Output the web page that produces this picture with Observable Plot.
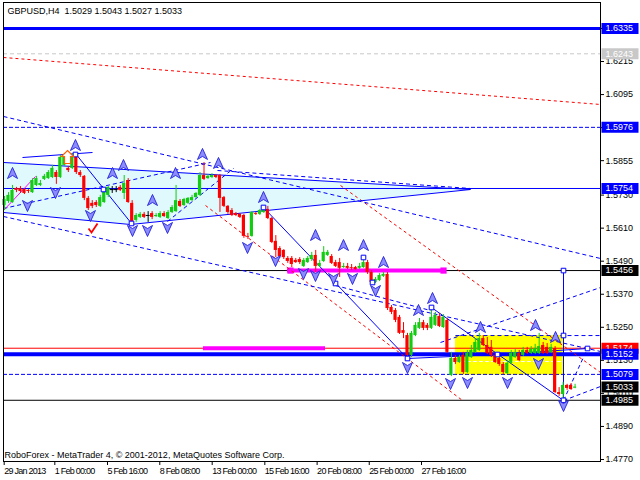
<!DOCTYPE html>
<html><head><meta charset="utf-8">
<script src="https://cdn.jsdelivr.net/npm/d3@7"></script>
<script src="https://cdn.jsdelivr.net/npm/@observablehq/plot@0.6"></script>
<style>
html,body{margin:0;padding:0;background:#fff;}
#chart svg{display:block;}
#chart g[aria-label="x-axis tick label"] text{letter-spacing:-0.75px;}
</style></head><body><div id="chart"></div>
<script>
// ---------------- data ----------------
const symbolName = "GBPUSD";
const period = "H4";
const opens = [1.5692,1.5707,1.5703,1.5754,1.5754,1.5750,1.5747,1.5739,1.5765,1.5765,1.5787,1.5790,1.5794,1.5812,1.5794,1.5838,1.5827,1.5827,1.5867,1.5812,
1.5798,1.5718,1.5700,1.5703,1.5689,1.5703,1.5729,1.5750,1.5750,1.5758,1.5736,1.5783,1.5700,1.5638,1.5649,1.5660,1.5656,1.5663,1.5652,1.5649,
1.5663,1.5645,1.5667,1.5670,1.5707,1.5692,1.5700,1.5710,1.5721,1.5729,1.5801,1.5790,1.5794,1.5801,1.5801,1.5721,1.5689,1.5674,1.5663,1.5660,
1.5656,1.5580,1.5580,1.5663,1.5660,1.5667,1.5678,1.5645,1.5562,1.5536,1.5529,1.5500,1.5500,1.5493,1.5496,1.5471,1.5485,1.5496,1.5511,1.5471,
1.5489,1.5511,1.5507,1.5485,1.5485,1.5467,1.5471,1.5467,1.5467,1.5464,1.5467,1.5485,1.5449,1.5413,1.5420,1.5435,1.5442,1.5322,1.5311,1.5286,
1.5238,1.5220,1.5148,1.5220,1.5246,1.5267,1.5257,1.5246,1.5257,1.5289,1.5249,1.5275,1.5075,1.5137,1.5122,1.5148,1.5086,1.5140,1.5159,1.5166,
1.5209,1.5184,1.5177,1.5148,1.5137,1.5115,1.5082,1.5119,1.5140,1.5155,1.5148,1.5166,1.5155,1.5155,1.5155,1.5184,1.5177,1.5159,1.5173,1.5013,
1.5006,1.5039,1.5039,1.5029];
const highs = [1.5725,1.5739,1.5765,1.5758,1.5761,1.5754,1.5750,1.5790,1.5798,1.5783,1.5805,1.5819,1.5838,1.5819,1.5874,1.5881,1.5834,1.5881,1.5881,1.5819,
1.5801,1.5725,1.5710,1.5710,1.5729,1.5754,1.5761,1.5761,1.5761,1.5765,1.5801,1.5790,1.5710,1.5663,1.5667,1.5667,1.5670,1.5670,1.5663,1.5670,
1.5670,1.5674,1.5692,1.5765,1.5714,1.5718,1.5721,1.5729,1.5739,1.5812,1.5848,1.5805,1.5808,1.5805,1.5805,1.5725,1.5692,1.5681,1.5667,1.5663,
1.5660,1.5591,1.5670,1.5667,1.5678,1.5689,1.5689,1.5649,1.5583,1.5543,1.5532,1.5507,1.5507,1.5500,1.5503,1.5500,1.5507,1.5522,1.5529,1.5493,
1.5543,1.5529,1.5514,1.5493,1.5500,1.5482,1.5482,1.5478,1.5471,1.5482,1.5503,1.5493,1.5456,1.5431,1.5445,1.5449,1.5449,1.5329,1.5318,1.5293,
1.5267,1.5228,1.5235,1.5267,1.5282,1.5275,1.5264,1.5318,1.5304,1.5300,1.5296,1.5282,1.5159,1.5148,1.5148,1.5159,1.5166,1.5184,1.5209,1.5228,
1.5220,1.5213,1.5202,1.5155,1.5144,1.5122,1.5129,1.5166,1.5169,1.5166,1.5177,1.5177,1.5180,1.5188,1.5228,1.5195,1.5191,1.5188,1.5180,1.5031,
1.5050,1.5043,1.5046,1.5043];
const lows = [1.5674,1.5700,1.5700,1.5739,1.5736,1.5732,1.5736,1.5736,1.5761,1.5761,1.5783,1.5787,1.5790,1.5769,1.5790,1.5834,1.5812,1.5823,1.5805,1.5794,
1.5710,1.5674,1.5681,1.5685,1.5685,1.5700,1.5721,1.5736,1.5739,1.5743,1.5714,1.5700,1.5623,1.5631,1.5645,1.5645,1.5631,1.5641,1.5649,1.5645,
1.5649,1.5641,1.5663,1.5667,1.5685,1.5689,1.5696,1.5707,1.5718,1.5725,1.5783,1.5787,1.5790,1.5790,1.5667,1.5685,1.5660,1.5652,1.5652,1.5645,
1.5573,1.5569,1.5577,1.5656,1.5656,1.5663,1.5641,1.5554,1.5503,1.5500,1.5496,1.5482,1.5467,1.5482,1.5478,1.5467,1.5482,1.5489,1.5449,1.5467,
1.5485,1.5507,1.5478,1.5467,1.5431,1.5464,1.5460,1.5456,1.5456,1.5460,1.5464,1.5442,1.5405,1.5409,1.5416,1.5431,1.5311,1.5296,1.5267,1.5224,
1.5209,1.5129,1.5140,1.5216,1.5242,1.5238,1.5238,1.5242,1.5253,1.5249,1.5246,1.5155,1.5071,1.5115,1.5119,1.5079,1.5082,1.5137,1.5155,1.5162,
1.5180,1.5151,1.5140,1.5119,1.5108,1.5079,1.5079,1.5115,1.5137,1.5126,1.5144,1.5151,1.5151,1.5151,1.5151,1.5151,1.5151,1.5155,1.5010,1.4999,
1.4985,1.5021,1.5021,1.5027];
const closes = [1.5714,1.5729,1.5747,1.5747,1.5743,1.5736,1.5743,1.5783,1.5790,1.5772,1.5798,1.5812,1.5827,1.5794,1.5867,1.5874,1.5819,1.5874,1.5812,1.5801,
1.5718,1.5681,1.5689,1.5692,1.5721,1.5747,1.5758,1.5750,1.5750,1.5747,1.5772,1.5703,1.5631,1.5656,1.5660,1.5649,1.5656,1.5649,1.5656,1.5663,
1.5652,1.5667,1.5685,1.5710,1.5689,1.5714,1.5718,1.5721,1.5736,1.5801,1.5787,1.5798,1.5801,1.5794,1.5718,1.5689,1.5667,1.5656,1.5656,1.5649,
1.5580,1.5577,1.5667,1.5660,1.5674,1.5681,1.5645,1.5558,1.5529,1.5507,1.5503,1.5489,1.5478,1.5485,1.5485,1.5493,1.5500,1.5511,1.5471,1.5482,
1.5522,1.5522,1.5482,1.5471,1.5464,1.5471,1.5464,1.5464,1.5460,1.5471,1.5485,1.5449,1.5413,1.5424,1.5438,1.5442,1.5318,1.5304,1.5275,1.5228,
1.5228,1.5148,1.5228,1.5257,1.5267,1.5246,1.5246,1.5286,1.5293,1.5253,1.5286,1.5159,1.5137,1.5122,1.5140,1.5086,1.5155,1.5166,1.5195,1.5209,
1.5184,1.5155,1.5148,1.5122,1.5115,1.5086,1.5119,1.5155,1.5159,1.5129,1.5166,1.5155,1.5169,1.5173,1.5180,1.5155,1.5155,1.5177,1.5013,1.5006,
1.5039,1.5028,1.5024,1.5033];

// y-axis tick labels and x-axis (bar index) tick labels
const yTicks = [1.6335,1.6215,1.6095,1.5975,1.5855,1.5730,1.5610,1.5490,1.5370,1.5250,1.5130,1.5010,1.4890,1.4770];
const xTickBars = [-0.33,12.36,25.56,38.67,51.8,64.99,78.1,91.16,104.26];
const xTickLabels = ["29 Jan 2013","1 Feb 00:00","5 Feb 16:00","8 Feb 08:00","13 Feb 00:00","15 Feb 16:00","20 Feb 08:00","25 Feb 00:00","27 Feb 16:00"];
const xDomain = [-0.25, 149.37];
const yDomain = [1.47627, 1.64293];

// horizontal levels
const thickBlueLevels = [1.6335];
const heavyBlueLevels = [1.5152];
const solidBlueLevels = [1.5754];
const dashedBlueLevels = [1.5976, 1.5079];
const grayLevels = [1.6243];
const blackLevels = [1.5456, 1.4985];
const redLevels = [1.5174];
// price tags on the right scale
const blueTags = [1.6335, 1.5976, 1.5754, 1.5152, 1.5079];
const grayTags = [1.6243];
const blackTags = [1.5456, 1.5033, 1.4985];
const redTags = [1.5174];

// triangle (bar, low, high)
const triangleBars = [-0.25, 31.58, 116.79];
const triangleLow = [1.56668, 1.56232, 1.57503];
const triangleHigh = [1.58484, 1.5822, 1.57503];
// rectangle [bar1, bar2, price1, price2]
const yellowBox = [113.03, 140.1, 1.5075, 1.5220];
const whiteDash = [113.03, 140.1, 1.51258];

// trend lines [bar1, price1, bar2, price2]
const solidLines = [
  [-0.25,1.58484,116.79,1.57503],[-0.25,1.56668,31.58,1.56232],[31.58,1.56232,116.79,1.57503],
  [4.51,1.58665,22.06,1.58847],[17.79,1.58810,31.83,1.56269],[64.91,1.56850,101.0,1.51367],
  [101.0,1.51367,123.56,1.51512],[123.56,1.51512,146.12,1.51730],[107.0,1.53219,140.1,1.49842],
  [140.1,1.5456,140.1,1.4985]
];
const dashedLines = [
  [-0.25,1.60154,149.37,1.54998],[-0.25,1.56523,149.37,1.51621],[-0.25,1.56814,51.63,1.58484],
  [40.85,1.56342,57.39,1.58266],[53.38,1.58193,116.79,1.57540],[82.96,1.54017,106.77,1.53110],
  [109.27,1.51948,149.37,1.53945],[140.1,1.49842,149.37,1.50350],[140.1,1.49842,146.12,1.51730],
  [113.03,1.5220,149.37,1.5220]
];
const redDashedLines = [
  [-0.25,1.62296,149.37,1.60590],[50.38,1.56922,114.79,1.49842],[84.21,1.57649,149.37,1.50859]
];
const magentaThick = [[70.93,1.5456,110.03],[49.87,1.5174,80.45]];
const magentaEnds = [[71.68,1.5456],[110.03,1.5456]];
const magentaThin = [[-0.25,1.56741,7.77,1.57976]];
const squares = [[17.79,1.58774],[24.81,1.57503],[31.83,1.56269],[64.91,1.56850],[82.96,1.54090],[89.97,1.55034],
  [92.23,1.54127],[101.0,1.51367],[107.02,1.53219],[123.56,1.51512],[146.12,1.51730],[140.1,1.52202],[140.1,1.5456],[140.1,1.4985]];
const upFractals = [[2.01,1.58085],[17.79,1.59101],[27.07,1.58085],[29.82,1.58375],[37.09,1.57104],[42.86,1.58085],
  [49.62,1.58776],[53.63,1.58449],[64.91,1.57213],[77.94,1.55833],[84.96,1.55470],[89.97,1.55470],[94.99,1.54853],
  [103.76,1.53110],[107.27,1.53546],[119.30,1.52493],[133.08,1.52565],[138.10,1.52130]];
const downFractals = [[5.76,1.56922],[12.78,1.57394],[21.55,1.56559],[32.08,1.56015],[35.84,1.56015],[40.85,1.56124],
  [60.90,1.55398],[67.92,1.54925],[74.94,1.54454],[77.94,1.54381],[82.46,1.54272],[87.22,1.54272],[92.98,1.53836],
  [101.0,1.51040],[111.78,1.50459],[116.04,1.50495],[126.07,1.50495],[133.83,1.51185],[140.1,1.49660]];
const buyArrow = [[15.79,1.58665]];
const checkMark = [[22.06,1.56088]];
const footerText = "RoboForex - MetaTrader 4, \u00a9 2001-2012, MetaQuotes Software Corp.";

// ---------------- chart ----------------
const BULL = "#12cc12", BEAR = "#ff0000", BLUE = "#0000ff";
const candles = opens.map((o, i) => ({i, o, h: highs[i], l: lows[i], c: closes[i]}));
const colorOf = d => d.c > d.o ? BULL : d.c < d.o ? BEAR : "#000000";
const last = candles[candles.length - 1];
const header = `${symbolName},${period}\u00a0\u00a0${[last.o, last.h, last.l, last.c].map(v => v.toFixed(4)).join(" ")}`;
const xLabelMap = new Map(xTickBars.map((b, k) => [b, xTickLabels[k]]));
const tri = triangleBars.map((b, k) => ({b, lo: triangleLow[k], hi: triangleHigh[k]}));

const upSym = {draw(c) { c.moveTo(0,-6); c.lineTo(5,5); c.lineTo(0,2); c.lineTo(-5,5); c.closePath(); }};
const downSym = {draw(c) { c.moveTo(0,6); c.lineTo(5,-5); c.lineTo(0,-2); c.lineTo(-5,-5); c.closePath(); }};
const buySym = {draw(c) { c.moveTo(0,-7); c.lineTo(6,-1); c.lineTo(3,-1); c.lineTo(3,6); c.lineTo(-3,6); c.lineTo(-3,-1); c.lineTo(-6,-1); c.closePath(); }};
const checkSym = {draw(c) { c.moveTo(-4,0); c.lineTo(-1,4); c.lineTo(5,-5); }};
const boxSym = {draw(c) { c.rect(0,-5.5,37,11); }};
const tagX = () => xDomain[1];

const tagMarks = (vals, bg, fg) => [
  Plot.dot(vals, {x: tagX, y: d => d, symbol: boxSym, fill: bg, dx: 1}),
  Plot.text(vals, {x: tagX, y: d => d, text: d => d.toFixed(4), dx: 5, textAnchor: "start", fill: fg, fontSize: 9})
];

const chart = Plot.plot({
  width: 640, height: 480,
  marginLeft: 3, marginRight: 40, marginTop: 2, marginBottom: 19,
  style: {fontFamily: "'Liberation Sans', Arial, sans-serif", fontSize: "9px", background: "#ffffff", overflow: "visible"},
  x: {domain: xDomain},
  y: {domain: yDomain},
  color: {type: "identity"},
  marks: [
    Plot.areaY(tri, {x: "b", y1: "lo", y2: "hi", fill: "#dff9fd", curve: "linear"}),
    Plot.rect([yellowBox], {x1: d => d[0], x2: d => d[1], y1: d => d[2], y2: d => d[3], fill: "#ffff00"}),
    Plot.ruleY([whiteDash], {y: d => d[2], x1: d => d[0], x2: d => d[1], stroke: "#ffffff", strokeDasharray: "4,2"}),
    Plot.ruleY(grayLevels, {stroke: "#c8c8c8", strokeDasharray: "4,3"}),
    Plot.ruleY(dashedBlueLevels, {stroke: BLUE, strokeDasharray: "4,2"}),
    Plot.ruleY(solidBlueLevels, {stroke: BLUE}),
    Plot.ruleY(blackLevels, {stroke: "#000000"}),
    Plot.ruleY(redLevels, {stroke: "#ff0000"}),
    Plot.ruleY(magentaThick, {y: d => d[1], x1: d => d[0], x2: d => d[2], stroke: "#ff00ff", strokeWidth: 4}),
    Plot.dot(magentaEnds, {x: d => d[0], y: d => d[1], symbol: "square", r: 3.5, fill: "#ff00ff"}),
    Plot.ruleY(thickBlueLevels, {stroke: BLUE, strokeWidth: 3}),
    Plot.ruleY(heavyBlueLevels, {stroke: BLUE, strokeWidth: 4}),
    Plot.link(redDashedLines, {x1: d => d[0], y1: d => d[1], x2: d => d[2], y2: d => d[3], stroke: "#ff0000", strokeDasharray: "3,3", clip: true}),
    Plot.link(dashedLines, {x1: d => d[0], y1: d => d[1], x2: d => d[2], y2: d => d[3], stroke: BLUE, strokeDasharray: "4,3", clip: true}),
    Plot.link(solidLines, {x1: d => d[0], y1: d => d[1], x2: d => d[2], y2: d => d[3], stroke: BLUE, clip: true}),
    Plot.link(magentaThin, {x1: d => d[0], y1: d => d[1], x2: d => d[2], y2: d => d[3], stroke: "#ff00ff", clip: true}),
    // candles
    Plot.ruleX(candles, {x: "i", y1: "l", y2: "h", stroke: colorOf}),
    Plot.rect(candles.filter(d => d.o !== d.c), {x1: d => d.i - 0.4, x2: d => d.i + 0.4, y1: "o", y2: "c", fill: colorOf}),
    Plot.ruleY(candles.filter(d => d.o === d.c), {y: "c", x1: d => d.i - 0.5, x2: d => d.i + 0.5, stroke: "#000000"}),
    // markers
    Plot.dot(squares, {x: d => d[0], y: d => d[1], symbol: "square", r: 2.6, stroke: BLUE, fill: "#ffffff", strokeWidth: 1}),
    Plot.dot(upFractals, {x: d => d[0], y: d => d[1], symbol: upSym, fill: "#8c8cff", stroke: "#2020d8", strokeWidth: 0.9}),
    Plot.dot(downFractals, {x: d => d[0], y: d => d[1], symbol: downSym, fill: "#8c8cff", stroke: "#2020d8", strokeWidth: 0.9}),
    Plot.dot(buyArrow, {x: d => d[0], y: d => d[1], symbol: buySym, fill: "#ffffff", stroke: "#ff6000", strokeWidth: 1.2}),
    Plot.dot(checkMark, {x: d => d[0], y: d => d[1], symbol: checkSym, fill: "none", stroke: "#ff0000", strokeWidth: 1.8}),
    // texts
    Plot.text([header], {frameAnchor: "top-left", dx: 4, dy: 5, lineAnchor: "top", textAnchor: "start", fontSize: 9, fill: "#000000"}),
    Plot.text([footerText], {frameAnchor: "bottom-left", dx: 1, dy: -4, lineAnchor: "bottom", textAnchor: "start", fontSize: 9, fill: "#000000"}),
    Plot.frame({stroke: "#000000"}),
    Plot.axisY({anchor: "right", ticks: yTicks, tickFormat: d => d.toFixed(4), tickSize: 3, tickPadding: 2, fontSize: 9, label: null}),
    Plot.axisX({anchor: "bottom", ticks: xTickBars, tickFormat: d => xLabelMap.get(d), tickSize: 4, tickPadding: 2, textAnchor: "start", dx: 1, fontSize: 9, label: null}),
    ...tagMarks(redTags, "#ff0000", "#ffffff"),
    ...tagMarks(grayTags, "#c8c8c8", "#ffffff"),
    ...tagMarks(blackTags, "#000000", "#ffffff"),
    ...tagMarks(blueTags, BLUE, "#ffffff")
  ]
});
document.getElementById("chart").appendChild(chart);
</script>
</body></html>
